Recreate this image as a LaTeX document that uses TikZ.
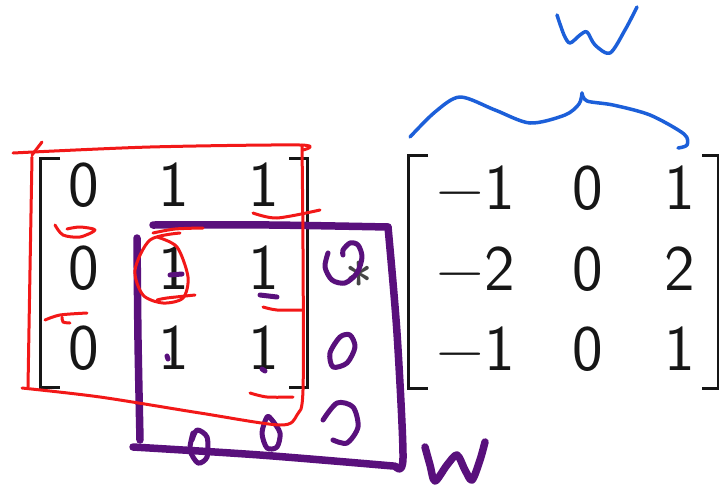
\documentclass[tikz,border=0pt]{standalone}
\usepackage{fontspec}
\usetikzlibrary{calc}
\definecolor{inkred}{HTML}{F21818}
\definecolor{inkblue}{HTML}{1C5FD9}
\definecolor{inkpurple}{HTML}{59107C}
\definecolor{print}{HTML}{161616}
\newcommand{\entry}[3]{
  \node[entry] (#1) at #2 {#3};
}

\begin{document}
\begin{tikzpicture}[x=1pt,y=-1pt,
    entry/.style={inner sep=0pt,text depth=0pt,text=print,
      font=\fontsize{65}{70}\selectfont\sffamily},
    bracketline/.style={draw=print,line width=3pt},
    redink/.style={draw=inkred,line width=3pt,line cap=round,line join=round},
    blueink/.style={draw=inkblue,line width=3.5pt,line cap=round,line join=round},
    purpleink/.style={draw=inkpurple,line width=7.5pt,line cap=round,line join=round},
    purplethin/.style={draw=inkpurple,line width=5pt,line cap=round,line join=round}]
  \useasboundingbox (0,0) rectangle (719,493);
  % left matrix
  \entry{a11}{(84,185)}{0}
  \entry{a12}{(174,185)}{1}
  \entry{a13}{(264,185)}{1}
  \entry{a21}{(84,268)}{0}
  \entry{a22}{(174,268)}{1}
  \entry{a23}{(264,268)}{1}
  \entry{a31}{(84,348)}{0}
  \entry{a32}{(174,348)}{1}
  \entry{a33}{(264,348)}{1}
  \draw[bracketline] (60,158) -- (40,158) -- (40,387) -- (60,387);
  \draw[bracketline] (289,158) -- (307,158) -- (307,387) -- (289,387);
  \node[entry,text=print!80,font=\fontsize{58}{60}\selectfont\sffamily] (star) at (359,283) {*};
  % right matrix
  \entry{k11}{(476,188)}{\textminus1}
  \entry{k12}{(588,188)}{0}
  \entry{k13}{(680,188)}{1}
  \entry{k21}{(476,269)}{\textminus2}
  \entry{k22}{(588,269)}{0}
  \entry{k23}{(680,269)}{2}
  \entry{k31}{(476,349)}{\textminus1}
  \entry{k32}{(588,349)}{0}
  \entry{k33}{(680,349)}{1}
  \draw[bracketline] (428,155) -- (408,155) -- (408,388) -- (428,388);
  \draw[bracketline] (702,155) -- (718,155) -- (718,388) -- (702,388);
  % purple box and zeros
  \draw[purpleink] plot[smooth] coordinates {(153,225) (270,225) (388,227)};
  \draw[purpleink] plot[smooth] coordinates {(388,227) (397,333) (403,458) (395,466)};
  \draw[purpleink] plot[smooth] coordinates {(133,447) (260,455) (393,466)};
  \draw[purpleink] plot[smooth] coordinates {(137,238) (138,340) (140,440)};
  \draw[purplethin] plot[smooth] coordinates {(328,253) (325,267) (332,280) (345,283) (357,273) (362,257) (358,245) (350,243) (343,250) (343,255)};
  \draw[purplethin] plot[smooth cycle] coordinates {(340,337) (330,353) (333,367) (347,363) (355,347) (350,335)};
  \draw[purplethin] plot[smooth] coordinates {(323,420) (337,403) (353,407) (358,427) (347,443) (333,440)};
  \draw[purplethin] plot[smooth] coordinates {(193,433) (190,450) (198,463) (207,457) (207,437) (197,430) (192,440)};
  \draw[purplethin] plot[smooth cycle] coordinates {(267,417) (262,433) (267,448) (277,447) (280,433) (272,420)};
  \draw[purplethin] (170,275) -- (182,274);
  \draw[purplethin] (260,295) -- (277,297);
  \draw[purplethin] (167,356) -- (168,359);
  \draw[purplethin] (262,369) -- (265,371);
  \draw[purpleink] plot[smooth] coordinates {(425,447) (430,465) (435,481) (447,465) (457,455) (465,470) (472,480) (480,460) (485,442)};
  % red box and marks
  \draw[redink] plot[smooth] coordinates {(13,153) (150,147) (300,145) (303,150)};
  \draw[redink] (32,155) -- (42,142);
  \draw[redink] plot[smooth] coordinates {(32,157) (30,270) (28,387)};
  \draw[redink] plot[smooth] coordinates {(302,145) (303,250) (303,390) (297,415) (280,425) (200,413) (100,397) (22,388)};
  \draw[redink] plot[smooth] coordinates {(253,213) (277,218) (320,210)};
  \draw[redink] plot[smooth] coordinates {(263,307) (277,310) (302,310)};
  \draw[redink] plot[smooth] coordinates {(250,393) (267,397) (293,397)};
  \draw[redink] plot[smooth] coordinates {(55,225) (63,235) (80,237) (95,230) (80,227) (67,229)};
  \draw[redink] plot[smooth] coordinates {(45,320) (60,315) (87,313)};
  \draw[redink] plot[smooth] coordinates {(62,317) (63,322) (70,323)};
  \draw[redink] plot[smooth] coordinates {(180,233) (150,240) (135,270) (143,295) (163,303) (183,298) (188,277) (177,247) (157,237)};
  \draw[redink] plot[smooth] coordinates {(153,233) (175,229) (203,228)};
  \draw[redink] plot[smooth] coordinates {(157,300) (167,298) (195,295)};
  % blue brace and label
  \draw[blueink] plot[smooth] coordinates {(410,137) (435,112) (460,97) (495,110) (530,123) (565,115) (579,104) (582,93)};
  \draw[blueink] plot[smooth] coordinates {(582,93) (587,101) (613,105) (650,115) (684,134) (687,145) (678,148)};
  \draw[blueink] plot[smooth] coordinates {(557,15) (564,35) (570,43) (580,35) (587,32) (595,45) (610,53) (625,30) (637,7)};
\end{tikzpicture}
\end{document}
